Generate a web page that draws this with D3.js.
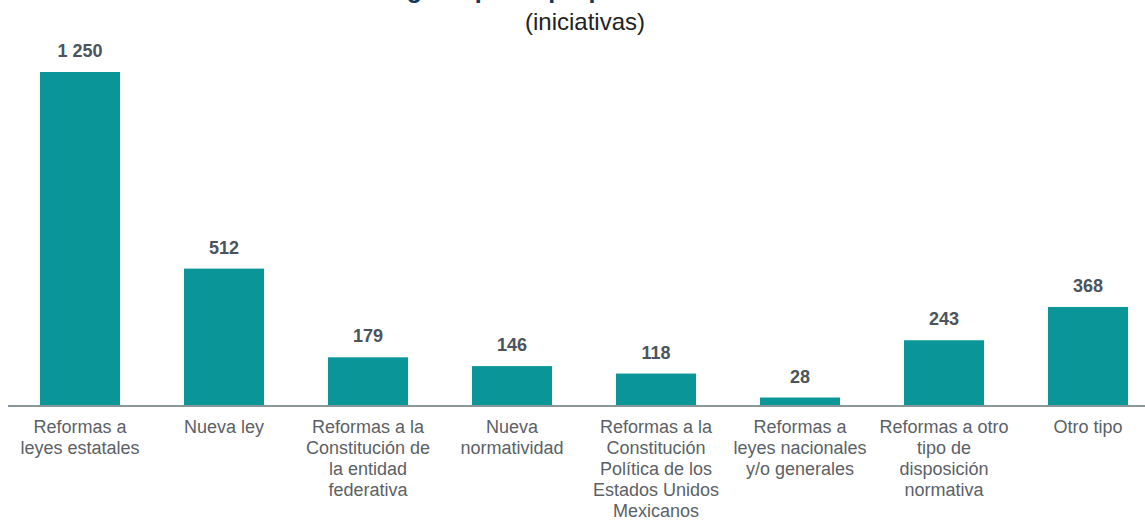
<!DOCTYPE html>
<html>
<head>
<meta charset="utf-8">
<script src="https://cdn.jsdelivr.net/npm/d3@7"></script>
<style>
  body { margin: 0; background: #fff; }
  svg { display: block; font-family: Arial, "Liberation Sans", sans-serif; }
</style>
</head>
<body>
<svg id="chart"></svg>
<script>
// chart data
var categories = [
    ["Reformas a", "leyes estatales"],
    ["Nueva ley"],
    ["Reformas a la", "Constitución de", "la entidad", "federativa"],
    ["Nueva", "normatividad"],
    ["Reformas a la", "Constitución", "Política de los", "Estados Unidos", "Mexicanos"],
    ["Reformas a", "leyes nacionales", "y/o generales"],
    ["Reformas a otro", "tipo de", "disposición", "normativa"],
    ["Otro tipo"]
];
var values = [1250, 512, 179, 146, 118, 28, 243, 368];
var valueLabels = ["1 250", "512", "179", "146", "118", "28", "243", "368"];

var width = 1145, height = 521;
var baseY = 405;

var svg = d3.select("#chart")
    .attr("width", width)
    .attr("height", height);

var x = d3.scaleBand()
    .domain(d3.range(values.length))
    .range([8, 1160])
    .paddingInner(0.444)
    .paddingOuter(0.222);

var y = d3.scaleLinear()
    .domain([0, 1250])
    .range([baseY, 72]);

// title (its top is cut off in the source, only the descenders show)
svg.append("text")
    .attr("x", 251)
    .attr("y", -2.5)
    .style("font-size", "25px")
    .style("font-weight", "bold")
    .style("fill", "#12385e")
    .text("Iniciativas según tipo de propuesta");

svg.append("text")
    .attr("x", 585)
    .attr("y", 30)
    .attr("text-anchor", "middle")
    .style("font-size", "24px")
    .style("fill", "#222")
    .text("(iniciativas)");

// bars
svg.selectAll("rect.bar")
    .data(values)
    .enter().append("rect")
    .attr("class", "bar")
    .attr("x", function(d, i) { return x(i); })
    .attr("y", function(d) { return y(d); })
    .attr("width", x.bandwidth())
    .attr("height", function(d) { return baseY - y(d); })
    .style("fill", "#0a9698");

// value labels
svg.selectAll("text.val")
    .data(values)
    .enter().append("text")
    .attr("class", "val")
    .attr("x", function(d, i) { return x(i) + x.bandwidth() / 2; })
    .attr("y", function(d) { return y(d) - 15; })
    .attr("text-anchor", "middle")
    .style("font-size", "18px")
    .style("font-weight", "bold")
    .style("fill", "#4b545c")
    .text(function(d, i) { return valueLabels[i]; });

// axis line
svg.append("line")
    .attr("x1", 8)
    .attr("x2", 1145)
    .attr("y1", baseY + 1)
    .attr("y2", baseY + 1)
    .style("stroke", "#8a949b")
    .style("stroke-width", 2);

// category labels
var cat = svg.selectAll("text.cat")
    .data(categories)
    .enter().append("text")
    .attr("class", "cat")
    .attr("text-anchor", "middle")
    .style("font-size", "18px")
    .style("fill", "#5b6167");

cat.selectAll("tspan")
    .data(function(d, i) { return d.map(function(s) { return { s: s, i: i }; }); })
    .enter().append("tspan")
    .attr("x", function(d) { return x(d.i) + x.bandwidth() / 2; })
    .attr("y", function(d, j) { return 433 + j * 21; })
    .text(function(d) { return d.s; });
</script>
</body>
</html>
